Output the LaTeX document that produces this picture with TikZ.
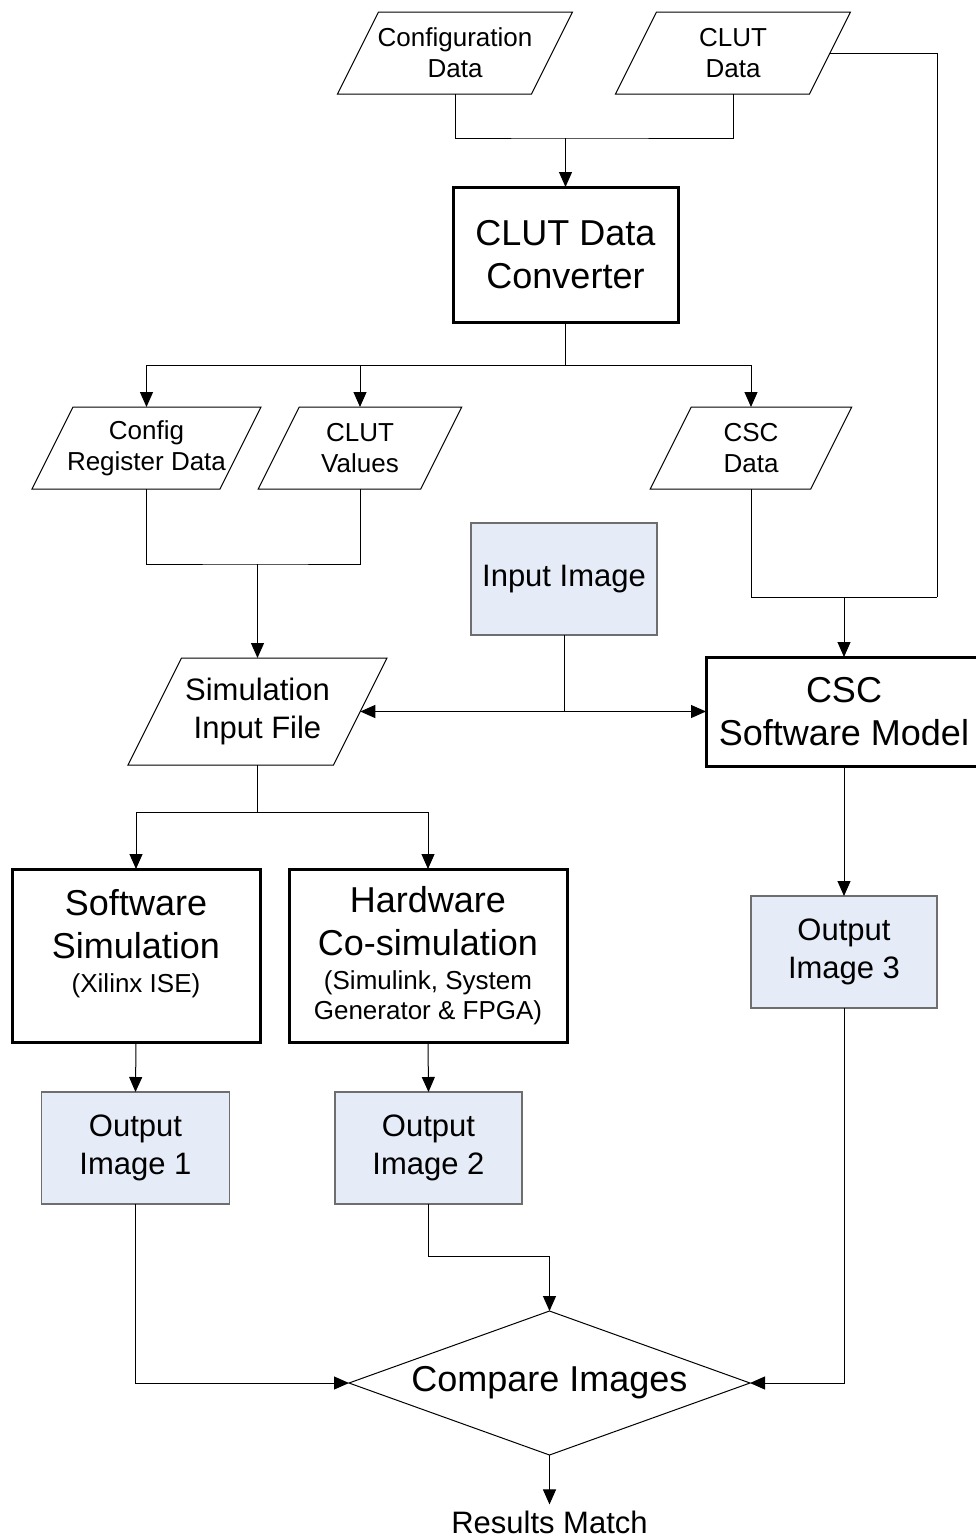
\documentclass[tikz,border=0pt]{standalone}
\usepackage{fontspec}
\setmainfont{Liberation Sans}
\usetikzlibrary{arrows.meta,shapes.geometric}
\newcommand\fbig{\fontsize{36}{43}\selectfont}
\newcommand\fmid{\fontsize{31}{38}\selectfont}
\newcommand\fsml{\fontsize{26}{31}\selectfont}
\definecolor{imgfill}{RGB}{230,236,247}
\definecolor{imgline}{RGB}{110,110,110}

\begin{document}
\begin{tikzpicture}[x=1pt,y=-1pt,
  conn/.style={line width=1pt},
  arr/.style={conn,-{Triangle[length=15pt,width=13pt]}},
  proc/.style={draw,line width=3pt,align=center,font=\fbig,inner sep=0pt,outer sep=0pt},
  img/.style={draw=imgline,fill=imgfill,line width=1.2pt,align=center,font=\fmid,inner sep=0pt,outer sep=0pt},
  io/.style={align=center,inner sep=0pt,outer sep=0pt},
  paraline/.style={line width=1pt}
]
\fill[white] (0,0) rectangle (976,1539);
\useasboundingbox (0,0) rectangle (976,1539);

% data inputs
\node[io,minimum width=194pt,minimum height=82pt,font=\fsml] (cfgdata) at (455,53) {Configuration\\Data};
\node[io,minimum width=194pt,minimum height=82pt,font=\fsml] (clutdata) at (733,53) {CLUT\\Data};

% converter
\node[proc,minimum width=225pt,minimum height=135pt] (conv) at (565.5,254.5) {CLUT Data\\Converter};

% converter outputs
\node[io,minimum width=188pt,minimum height=82pt,font=\fsml] (cfgreg) at (146.5,448) {Config\\Register Data};
\node[io,minimum width=162.5pt,minimum height=82pt,font=\fsml] (clutval) at (360,448) {CLUT\\Values};
\node[io,minimum width=160.5pt,minimum height=82pt,font=\fsml] (cscdata) at (751,448) {CSC\\Data};

\node[img,minimum width=186pt,minimum height=112pt] (inimg) at (564,579) {Input Image};

\node[io,minimum width=205.5pt,minimum height=107pt,font=\fmid] (siminput) at (257.5,711.5) {Simulation\\Input File};
\node[proc,minimum width=276pt,minimum height=109pt] (cscmodel) at (844,711.5) {CSC\\Software Model};

% simulations
\node[proc,minimum width=248pt,minimum height=173pt] (swsim) at (136,955.5)
  {Software\\Simulation\\[-9pt]{\fsml (Xilinx ISE)}\\[-13pt]\mbox{}};
\node[proc,minimum width=278pt,minimum height=173pt] (hwcosim) at (428,955.5)
  {Hardware\\Co-simulation\\[-9pt]{\fsml (Simulink, System}\\[-13pt]{\fsml Generator \& FPGA)}};

% output images
\node[img,minimum width=188pt,minimum height=112pt] (out1) at (135.5,1148) {Output\\Image 1};
\node[img,minimum width=187pt,minimum height=112pt] (out2) at (428.5,1148) {Output\\Image 2};
\node[img,minimum width=186pt,minimum height=112pt] (out3) at (844,952) {Output\\Image 3};

% comparison
\node[diamond,aspect=2.785,draw,line width=1pt,minimum width=401pt,minimum height=144pt,inner sep=0pt,outer sep=0pt,font=\fbig] (cmp) at (549.5,1383) {Compare Images};
\node[font=\fmid,inner sep=6pt] (res) at (549.5,1522) {Results Match};

% parallelogram outlines of the data nodes
\foreach \n/\s in {cfgdata/20.5,clutdata/20.5,cfgreg/20.5,clutval/20.5,cscdata/20.5,siminput/26.75}
  \draw[paraline] ([xshift=-\s pt]\n.south west) -- ([xshift=-\s pt]\n.south east)
     -- ([xshift=\s pt]\n.north east) -- ([xshift=\s pt]\n.north west) -- cycle;

% connectors
\coordinate (j1) at (conv.north |- 0,138);
\draw[conn] (cfgdata.south) |- (j1) -| (clutdata.south);
\draw[arr] (j1) -- (conv.north);

\coordinate (c1) at (937,597);
\draw[conn] (clutdata.east) -| (c1);
\draw[conn] (cscdata.south) |- (c1);
\coordinate (j2) at (cscmodel.north |- c1);
\draw[arr] (j2) -- (cscmodel.north);

\coordinate (j3) at (conv.south |- 0,365);
\draw[conn] (conv.south) -- (j3);
\draw[arr] (j3) -| (cfgreg.north);
\draw[arr] (j3) -| (clutval.north);
\draw[arr] (j3) -| (cscdata.north);

\coordinate (j4) at (siminput.north |- 0,564);
\draw[conn] (cfgreg.south) |- (j4) -| (clutval.south);
\draw[arr] (j4) -- (siminput.north);

\coordinate (j5) at (inimg.south |- siminput.east);
\draw[conn] (inimg.south) -- (j5);
\draw[arr] (j5) -- (siminput.east);
\draw[arr] (j5) -- (cscmodel.west);

\coordinate (j6) at (siminput.south |- 0,812);
\draw[conn] (siminput.south) -- (j6);
\draw[arr] (j6) -| (swsim.north);
\draw[arr] (j6) -| (hwcosim.north);

\draw[arr] (swsim.south) -- (out1.north);
\draw[arr] (hwcosim.south) -- (out2.north);
\draw[arr] (cscmodel.south) -- (out3.north);

\draw[arr] (out1.south) |- (cmp.west);
\draw[arr] (out3.south) |- (cmp.east);
\coordinate (j7) at (out2.south |- 0,1256);
\draw[arr] (out2.south) -- (j7) -| (cmp.north);
\draw[arr] (cmp.south) -- (res.north);
\end{tikzpicture}
\end{document}
